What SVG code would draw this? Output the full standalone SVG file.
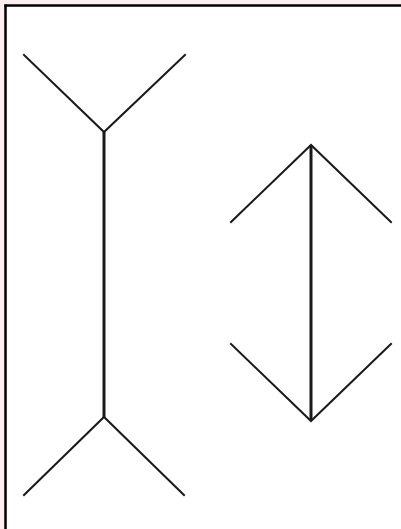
<svg xmlns="http://www.w3.org/2000/svg" width="401" height="529" viewBox="0 0 401 529">
<style>
.fin{stroke:#1a1a1a;stroke-width:2;fill:none;stroke-linecap:square}
.shaft{stroke:#1a1a1a;stroke-width:3;fill:none}
</style>
<rect x="0" y="0" width="401" height="529" fill="#fdeef0"/>
<rect x="7" y="7" width="394" height="522" fill="#ffffff"/>
<line x1="4.5" y1="5.5" x2="401" y2="5.5" stroke="#000" stroke-width="2.5"/>
<line x1="5.5" y1="4.5" x2="5.5" y2="529" stroke="#000" stroke-width="2.5"/>
<g id="left-figure">
<line class="shaft" x1="104" y1="132" x2="104" y2="417"/>
<polyline class="fin" points="24,55 104,132 185,55"/>
<polyline class="fin" points="24,495 104,417 184,495"/>
</g>
<g id="right-figure">
<line class="shaft" x1="311" y1="145" x2="311" y2="420"/>
<polyline class="fin" points="231,222 311,145 391,222"/>
<polyline class="fin" points="231,344 311,421 391,344"/>
</g>
</svg>
